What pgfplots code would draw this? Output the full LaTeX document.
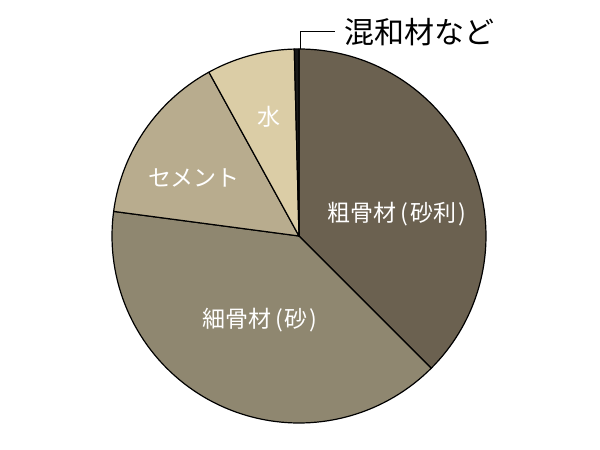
\documentclass[border=0pt]{standalone}
\usepackage{pgfplots}
\pgfplotsset{compat=1.18}
\usepackage{fontspec}
\newfontfamily\jp{Noto Sans CJK JP}

\definecolor{coarse}{HTML}{6B6150}
\definecolor{fine}{HTML}{8F8770}
\definecolor{cement}{HTML}{B8AC8E}
\definecolor{water}{HTML}{DBCDA6}
\definecolor{admix}{HTML}{1A1A1A}

\newcommand{\lp}{\hspace{4pt}(\hspace{2pt}}
\newcommand{\rp}{\hspace{2pt})}

\begin{document}
\begin{tikzpicture}
% shares in percent, clockwise from the top
\def\vCoarse{37.5}
\def\vFine{39.6}
\def\vCement{14.9}
\def\vWater{7.6}
\def\vAdmix{0.4}
\pgfmathsetmacro\aA{90}
\pgfmathsetmacro\aB{\aA-3.6*\vCoarse}
\pgfmathsetmacro\aC{\aB-3.6*\vFine}
\pgfmathsetmacro\aD{\aC-3.6*\vCement}
\pgfmathsetmacro\aE{\aD-3.6*\vWater}
\pgfmathsetmacro\aF{\aE-3.6*\vAdmix}
\begin{axis}[
    x=1pt, y=1pt,
    xmin=-299, xmax=301,
    ymin=-214, ymax=236,
    hide axis,
    clip=false,
    anchor=south west,
    at={(0,0)},
    scale only axis,
    every axis plot/.append style={draw=black, line width=1.2pt, line join=round},
    ]
    \path (rel axis cs:0,0) rectangle (rel axis cs:1,1);
    \addplot[fill=coarse, domain=\aB:\aA, samples=80] ({187*cos(x)},{187*sin(x)}) -- (0,0) -- cycle;
    \addplot[fill=fine, domain=\aC:\aB, samples=80] ({187*cos(x)},{187*sin(x)}) -- (0,0) -- cycle;
    \addplot[fill=cement, domain=\aD:\aC, samples=40] ({187*cos(x)},{187*sin(x)}) -- (0,0) -- cycle;
    \addplot[fill=water, domain=\aE:\aD, samples=30] ({187*cos(x)},{187*sin(x)}) -- (0,0) -- cycle;
    \addplot[fill=admix, domain=\aF:\aE, samples=4] ({187*cos(x)},{187*sin(x)}) -- (0,0) -- cycle;
    % leader line for the small slice
    \addplot[line width=1pt, mark=none] coordinates {(1,187) (1,204) (36,204)};

    \node[text=white, font=\jp\fontsize{23}{27}\selectfont] at (axis cs:98,22) {粗骨材\lp 砂利\rp};
    \node[text=white, font=\jp\fontsize{23}{27}\selectfont] at (axis cs:-39,-84) {細骨材\lp 砂\rp};
    \node[text=white, font=\jp\fontsize{23}{27}\selectfont] at (axis cs:-105,58) {セメント};
    \node[text=white, font=\jp\fontsize{23}{27}\selectfont] at (axis cs:-30,119) {水};
    \node[anchor=west, inner sep=0pt, font=\jp\fontsize{30}{33}\selectfont] at (axis cs:45,204) {混和材など};
\end{axis}
\end{tikzpicture}
\end{document}
